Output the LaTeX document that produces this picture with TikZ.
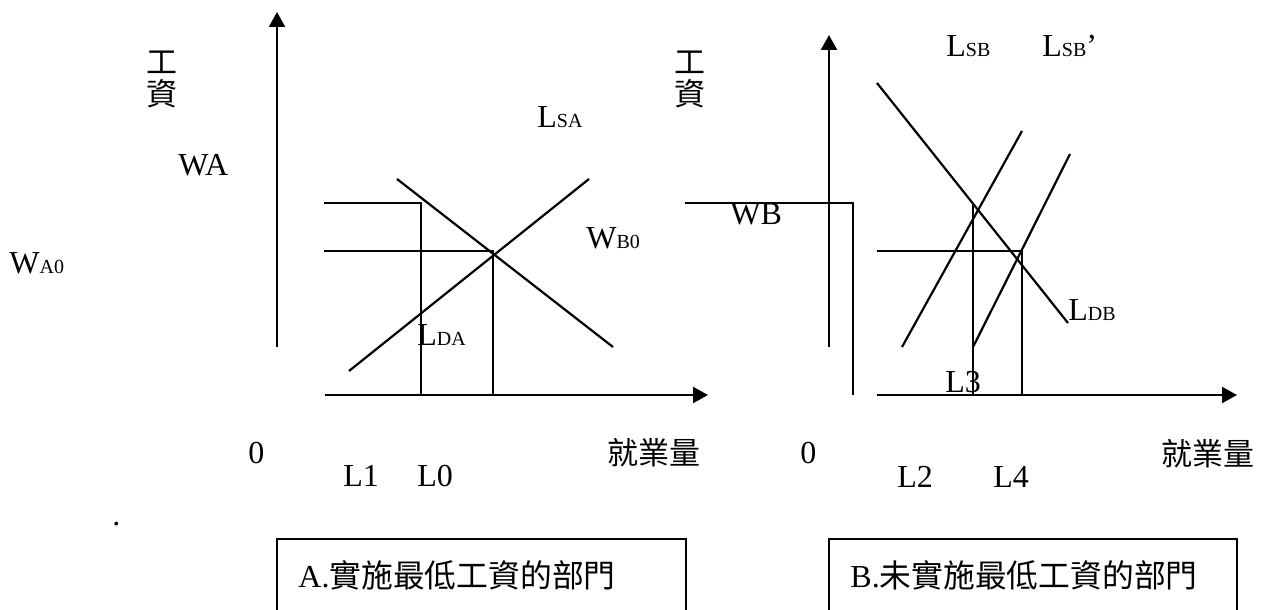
\documentclass[tikz,border=0pt]{standalone}
\usepackage{fontspec}
\setmainfont{Liberation Serif}
\newfontfamily\cjk{Noto Sans CJK TC}
\usetikzlibrary{arrows.meta}
\newcommand\tbig{\fontsize{16}{18}\selectfont}
\newcommand\tsub{\fontsize{10}{12}\selectfont}
\newcommand\tcjk{\cjk\fontsize{15.5}{17}\selectfont}
\newcommand\tcjkbox{\cjk\fontsize{15.9}{17}\selectfont}
\begin{document}
\begin{tikzpicture}[x=0.5pt,y=-0.5pt,
  ln/.style={line width=1.1pt},
  axis/.style={line width=1.1pt,-{Triangle[length=7.5pt,width=8pt]}},
  lbl/.style={anchor=base west,inner sep=0pt,font=\tbig},
  zh/.style={anchor=base west,inner sep=0pt,font=\tcjk},
]
\useasboundingbox (0,0) rectangle (1264,610);

% ---------- Panel A coordinates ----------
\coordinate (yA0) at (277,347);
\coordinate (yA1) at (277,12);
\coordinate (xA0) at (325,395);
\coordinate (xA1) at (708,395);
\coordinate (waL) at (324,203);
\coordinate (waC) at (421,203);
\coordinate (waB) at (421,395);
\coordinate (wa0L) at (324,251);
\coordinate (eA) at (493,251);
\coordinate (eAB) at (493,395);
\coordinate (sA0) at (349,371);
\coordinate (sA1) at (589,179);
\coordinate (dA0) at (397,179);
\coordinate (dA1) at (613,347);

% ---------- Panel B coordinates ----------
\coordinate (wbL) at (685,203);
\coordinate (wbC) at (853,203);
\coordinate (wbB) at (853,395);
\coordinate (yB0) at (829,347);
\coordinate (yB1) at (829,35);
\coordinate (xB0) at (877,395);
\coordinate (xB1) at (1237,395);
\coordinate (hB0) at (877,251);
\coordinate (eB) at (1022,251);
\coordinate (eBB) at (1022,395);
\coordinate (l3T) at (973,203);
\coordinate (l3B) at (973,395);
\coordinate (sB0) at (902,347);
\coordinate (sB1) at (1022,131);
\coordinate (sC0) at (973,347);
\coordinate (sC1) at (1070,154);
\coordinate (dB0) at (877,83);
\coordinate (dB1) at (1068,323);

% ---------- Box coordinates ----------
\coordinate (bA1) at (277,610);
\coordinate (bA2) at (277,539);
\coordinate (bA3) at (686,539);
\coordinate (bA4) at (686,610);
\coordinate (bB1) at (829,610);
\coordinate (bB2) at (829,539);
\coordinate (bB3) at (1237,539);
\coordinate (bB4) at (1237,610);

% ---------- Panel A drawing ----------
\draw[axis] (yA0) -- (yA1);
\draw[axis] (xA0) -- (xA1);
\draw[ln] (waL) -- (waC) -- (waB);
\draw[ln] (wa0L) -- (eA) -- (eAB);
\draw[ln] (sA0) -- (sA1);
\draw[ln] (dA0) -- (dA1);

% ---------- Panel B drawing ----------
\draw[ln] (wbL) -- (wbC) -- (wbB);
\draw[axis] (yB0) -- (yB1);
\draw[axis] (xB0) -- (xB1);
\draw[ln] (hB0) -- (eB) -- (eBB);
\draw[ln] (l3T) -- (l3B);
\draw[ln] (sB0) -- (sB1);
\draw[ln] (sC0) -- (sC1);
\draw[ln] (dB0) -- (dB1);

% ---------- Boxes ----------
\draw[line width=0.9pt] (bA1) -- (bA2) -- (bA3) -- (bA4);
\draw[line width=0.9pt] (bB1) -- (bB2) -- (bB3) -- (bB4);

% ---------- Labels panel A ----------
\node[zh] (gA1) at (146,74) {工};
\node[zh] (gA2) at (146,106) {資};
\node[lbl] (WA) at (178,176) {WA};
\node[lbl] (WA0) at (9,273) {W{\tsub A0}};
\node[lbl] (LSA) at (537,128) {L{\tsub SA}};
\node[lbl] (WB0) at (586,248) {W{\tsub B0}};
\node[lbl] (LDA) at (417,345) {L{\tsub DA}};
\node[lbl] (zA) at (248,463) {0};
\node[zh] (qA) at (607,464) {就業量};
\node[lbl] (L1) at (343,486) {L1};
\node[lbl] (L0) at (417,486) {L0};
\node[lbl] (dot) at (112,525) {.};

% ---------- Labels panel B ----------
\node[zh] (gB1) at (674,74) {工};
\node[zh] (gB2) at (674,106) {資};
\node[lbl] (WB) at (730,224) {WB};
\node[lbl] (LSB) at (946,57) {L{\tsub SB}};
\node[lbl] (LSBp) at (1042,57) {L{\tsub SB}’};
\node[lbl] (LDB) at (1068,320) {L{\tsub DB}};
\node[lbl] (L3) at (945,392) {L3};
\node[lbl] (zB) at (800,463) {0};
\node[zh] (qB) at (1161,465) {就業量};
\node[lbl] (L2) at (897,487) {L2};
\node[lbl] (L4) at (993,487) {L4};

% ---------- Box texts ----------
\node[lbl] (tA) at (298,587) {A.{\tcjkbox 實施最低工資的部門}};
\node[lbl] (tB) at (850,587) {B.{\tcjkbox 未實施最低工資的部門}};
\end{tikzpicture}
\end{document}
